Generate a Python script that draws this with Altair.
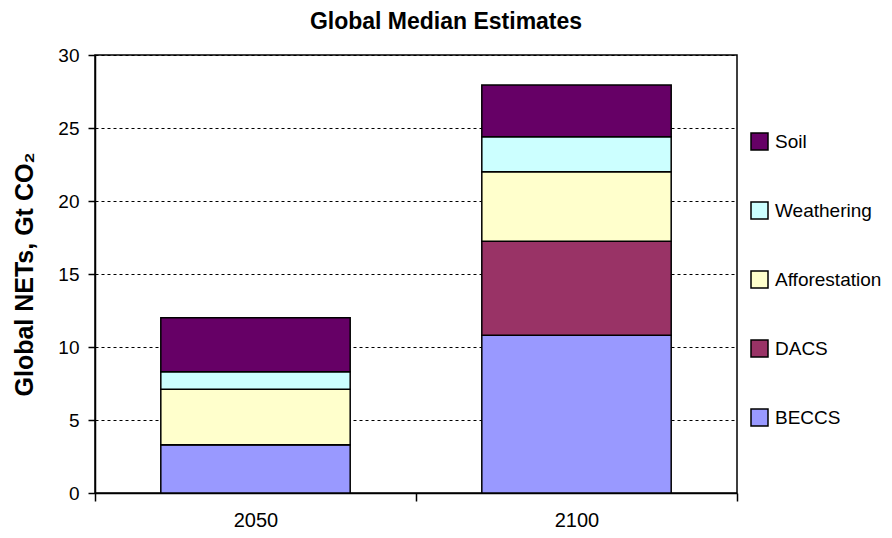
import altair as alt
import pandas as pd

years = ["2050", "2100"]
sources = ["BECCS", "DACS", "Afforestation", "Weathering", "Soil"]
beccs = [3.3, 10.8]
dacs = [0.0, 6.45]
afforestation = [3.8, 4.75]
weathering = [1.2, 2.4]
soil = [3.7, 3.55]
colors = ["#9999FF", "#993366", "#FFFFCC", "#CCFFFF", "#660066"]
y_ticks = [0, 5, 10, 15, 20, 25, 30]

series = [beccs, dacs, afforestation, weathering, soil]
rows = []
for i, (name, vals) in enumerate(zip(sources, series)):
    for yr, v in zip(years, vals):
        rows.append({"Year": yr, "Source": name, "Value": v, "order": i})
df = pd.DataFrame(rows)

legend_order = sources[::-1]
legend_colors = colors[::-1]

FONT = "Liberation Sans"

chart = alt.Chart(df).mark_bar(
    width=alt.RelativeBandSize(0.59), stroke="black", strokeWidth=1.5
).encode(
    x=alt.X(
        "Year:N",
        sort=years,
        scale=alt.Scale(paddingInner=0, paddingOuter=0),
        axis=alt.Axis(
            title=None, labelAngle=0, tickBand="extent", grid=False,
            domainColor="black", domainWidth=1.5, tickColor="black", tickWidth=1.5,
            tickSize=8, labelPadding=9, labelFontSize=20, labelColor="black",
            labelFont=FONT,
        ),
    ),
    y=alt.Y(
        "Value:Q",
        stack="zero",
        scale=alt.Scale(domain=[0, 30], nice=False),
        axis=alt.Axis(
            values=y_ticks, title="Global NETs, Gt CO₂", titleFont=FONT,
            titleFontSize=25, titleFontWeight="bold", titleColor="black",
            titlePadding=20,
            grid=True, gridColor="black", gridDash=[3, 3], gridWidth=1,
            domainColor="black", domainWidth=1.5, tickColor="black", tickWidth=1.5,
            tickSize=7, labelPadding=9, labelFontSize=19, labelColor="black",
            labelFont=FONT,
        ),
    ),
    color=alt.Color(
        "Source:N",
        scale=alt.Scale(domain=legend_order, range=legend_colors),
        legend=alt.Legend(
            title=None, orient="none", legendX=655, legendY=77,
            symbolType="square", symbolSize=289, symbolStrokeColor="black",
            symbolStrokeWidth=1.5, symbolOpacity=1, labelFontSize=19,
            labelFont=FONT, labelColor="black", rowPadding=46, labelOffset=6,
        ),
    ),
    order=alt.Order("order:Q", sort="ascending"),
).properties(
    width=642,
    height=438,
    title=alt.TitleParams(
        "Global Median Estimates", font=FONT, fontSize=23, fontWeight="bold",
        color="black", anchor="middle", dx=30, offset=12,
    ),
    autosize=alt.AutoSizeParams(type="none"),
    padding={"left": 87, "top": 47, "right": 147, "bottom": 36},
).configure_view(
    stroke="black", strokeWidth=1.5
)

chart.save("out.html", embed_options={"renderer": "svg", "actions": False})
